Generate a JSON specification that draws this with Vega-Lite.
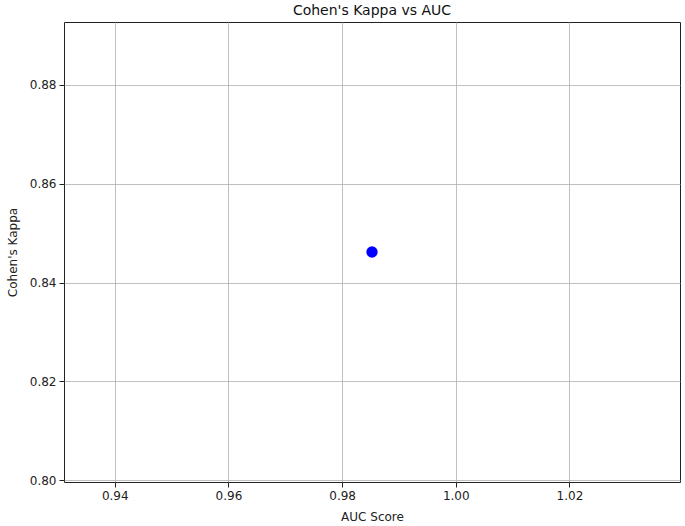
{
  "$schema": "https://vega.github.io/schema/vega-lite/v6.json",
  "width": 616,
  "height": 460,
  "autosize": "none",
  "padding": {"left": 64, "top": 22, "right": 5, "bottom": 44},
  "background": "white",
  "config": {
    "font": "DejaVu Sans",
    "view": {"stroke": "#222222", "strokeWidth": 1},
    "axis": {
      "domain": false,
      "grid": true,
      "gridColor": "#b0b0b0",
      "gridWidth": 0.8,
      "tickColor": "#222222",
      "tickSize": 5,
      "labelPadding": 3,
      "labelFontSize": 12,
      "labelColor": "#222222",
      "titleFontSize": 12,
      "titleFontWeight": "normal",
      "titleColor": "#222222"
    }
  },
  "title": {"text": "Cohen's Kappa vs AUC", "fontSize": 14, "fontWeight": "normal", "color": "#111111", "offset": 4},
  "data": {"values": [{"auc": 0.98526, "kappa": 0.8462}]},
  "mark": {"type": "point", "filled": true, "color": "#0000ff", "opacity": 1, "size": 130},
  "encoding": {
    "x": {
      "field": "auc", "type": "quantitative", "title": "AUC Score",
      "scale": {"domain": [0.93107, 1.03945], "nice": false, "zero": false},
      "axis": {"values": [0.94, 0.96, 0.98, 1.0, 1.02], "format": ".2f", "titlePadding": 10}
    },
    "y": {
      "field": "kappa", "type": "quantitative", "title": "Cohen's Kappa",
      "scale": {"domain": [0.79966, 0.89274], "nice": false, "zero": false},
      "axis": {"values": [0.80, 0.82, 0.84, 0.86, 0.88], "format": ".2f", "titlePadding": 10}
    }
  }
}
